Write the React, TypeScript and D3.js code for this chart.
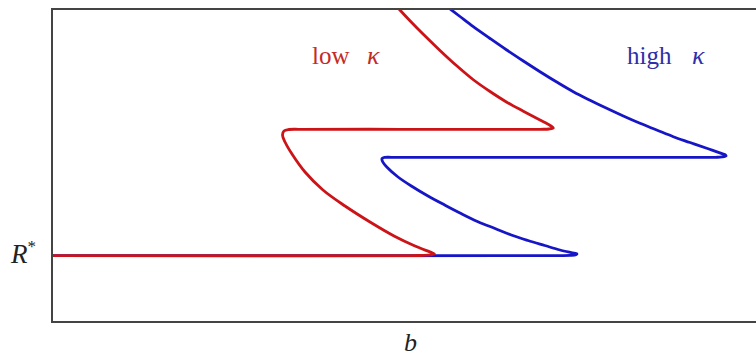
import React from "react";
import * as d3 from "d3";

// b (horizontal) and R (vertical) in arbitrary units
const R_STAR = 21.2;

const lowKappaB = [0, 35.23, 52.27, 53.84, 54.33, 53.98, 51.56, 48.72, 45.17, 41.62, 38.49, 35.94, 34.09, 33.1, 32.74, 32.95, 33.66, 35.23, 49.43, 69.32, 70.6, 71.21, 70.88, 70.03, 69.32, 66.95, 64.49, 62.22, 59.8, 57.49, 55.11, 52.74, 50.85, 49.19, 48.3];
const lowKappaR = [R_STAR, 21.2, 21.25, 21.41, 21.73, 22.11, 24.28, 27.32, 31.95, 37.06, 42.17, 47.92, 53.67, 57.51, 59.74, 61.02, 61.5, 61.57, 61.57, 61.57, 61.66, 61.98, 62.62, 63.74, 64.54, 67.35, 70.38, 73.64, 77.48, 81.85, 86.77, 91.92, 96.26, 100.26, 102.49];

const highKappaB = [0, 69.32, 73.58, 74.43, 74.57, 74.15, 72.16, 69.99, 67.61, 65.24, 62.93, 60.51, 58.1, 55.78, 53.41, 51.04, 49.15, 47.73, 46.95, 46.88, 47.3, 48.3, 94.18, 95.17, 95.74, 95.67, 95.17, 93.0, 90.63, 88.25, 85.89, 83.52, 81.15, 78.79, 76.42, 74.05, 71.69, 69.32, 66.95, 64.59, 62.22, 59.84, 57.95, 56.43, 55.26];
const highKappaR = [R_STAR, 21.2, 21.28, 21.47, 21.73, 21.98, 23.0, 24.44, 26.04, 27.8, 29.87, 32.04, 34.66, 37.38, 40.26, 43.45, 46.33, 49.11, 51.28, 52.24, 52.59, 52.62, 52.62, 52.72, 53.04, 53.35, 53.8, 55.5, 57.35, 59.2, 61.34, 63.48, 65.81, 68.27, 70.86, 73.58, 76.68, 79.97, 83.39, 86.9, 90.58, 94.35, 97.6, 100.22, 102.24];

const B_DOMAIN = [0, 100];
const R_DOMAIN = [0, 100];

const W = 756;
const H = 356;
const left = 52;
const top = 9;
const bottom = 322;
const right = 756;

const RED = "#cc1418";
const BLUE = "#1616c6";
const SERIF = { fontFamily: "Liberation Serif" };

export default function App() {
  const x = d3.scaleLinear().domain(B_DOMAIN).range([left, right]);
  const y = d3.scaleLinear().domain(R_DOMAIN).range([bottom, top]);
  const line = d3
    .line<[number, number]>()
    .x((d) => x(d[0]))
    .y((d) => y(d[1]))
    .curve(d3.curveCatmullRom.alpha(0.5));
  const low = lowKappaB.map((b, i) => [b, lowKappaR[i]] as [number, number]);
  const high = highKappaB.map((b, i) => [b, highKappaR[i]] as [number, number]);
  return (
    <svg
      width={W}
      height={H}
      style={{ position: "absolute", left: 0, top: 0, background: "#fff" }}
    >
      <defs>
        <clipPath id="plotclip">
          <rect x={left} y={top} width={right - left + 10} height={bottom - top} />
        </clipPath>
      </defs>
      <g clipPath="url(#plotclip)" fill="none" strokeLinejoin="round" strokeLinecap="round">
        <path d={line(high) || ""} stroke={BLUE} strokeWidth={2.8} />
        <path d={line(low) || ""} stroke={RED} strokeWidth={2.8} />
      </g>
      <path
        d={`M${right + 5},${top}H${left}V${bottom}H${right + 5}`}
        fill="none"
        stroke="#444"
        strokeWidth={2}
      />
      <text x={312} y={64} fontSize={25} fill="#c52a2a" style={SERIF}>
        low
        <tspan x={367} fontStyle="italic" fontSize={26}>κ</tspan>
      </text>
      <text x={627} y={64} fontSize={25} fill="#2f2fa8" style={SERIF}>
        high
        <tspan x={692} fontStyle="italic" fontSize={26}>κ</tspan>
      </text>
      <text x={11} y={y(R_STAR) + 7} fontSize={27} fontStyle="italic" fill="#222" style={SERIF}>
        R<tspan fontSize={17} dy={-11} fontStyle="normal">*</tspan>
      </text>
      <text x={404} y={351} fontSize={26} fontStyle="italic" fill="#222" style={SERIF}>
        b
      </text>
    </svg>
  );
}
